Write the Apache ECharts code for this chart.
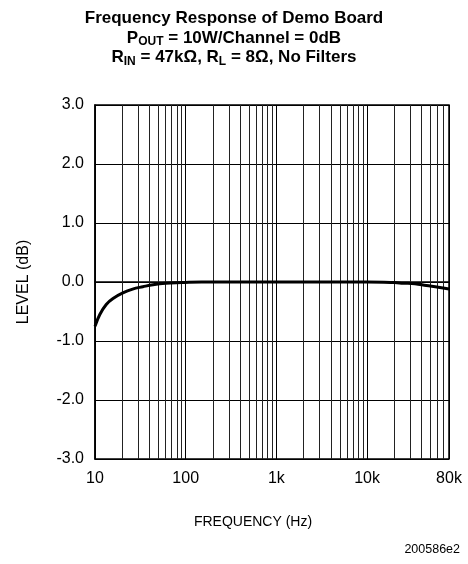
<!DOCTYPE html>
<html>
<head>
<meta charset="utf-8">
<script src="https://cdn.jsdelivr.net/npm/echarts@6/dist/echarts.min.js"></script>
<style>
html,body{margin:0;padding:0;background:#fff;}
#chart{width:468px;height:564px;}
</style>
</head>
<body>
<div id="chart"></div>
<script>
// Frequency (Hz) and level (dB)
var freqHz = [10, 11.3, 13.3, 15.8, 20, 26, 33.7, 43.6, 60, 91, 150, 300, 1000, 3000, 10000, 20000, 25000, 33700, 45000, 61000, 80000];
var levelDb = [-0.75, -0.55, -0.38, -0.28, -0.19, -0.12, -0.08, -0.045, -0.02, -0.01, 0, 0, 0, 0, 0, -0.01, -0.02, -0.03, -0.06, -0.09, -0.12];
// Axis tick labels
var xTickValues = [10, 100, 1000, 10000, 80000];
var xTickLabels = ['10', '100', '1k', '10k', '80k'];
var yTickValues = [-3, -2, -1, 0, 1, 2, 3];
var yTickLabels = ['-3.0', '-2.0', '-1.0', '0.0', '1.0', '2.0', '3.0'];
// Minor (log) grid line frequencies
var minorGrid = [20, 30, 40, 50, 60, 70, 80, 90,
                 200, 300, 400, 500, 600, 700, 800, 900,
                 2000, 3000, 4000, 5000, 6000, 7000, 8000, 9000,
                 20000, 30000, 40000, 50000, 60000, 70000];

var FONT = '"Liberation Sans", Arial, Helvetica, sans-serif';
var chart = echarts.init(document.getElementById('chart'), null, {renderer: 'canvas'});

function xLabel(v) {
  for (var i = 0; i < xTickValues.length; i++) {
    if (Math.abs(v - xTickValues[i]) / xTickValues[i] < 0.01) return xTickLabels[i];
  }
  return '';
}
function yLabel(v) {
  for (var i = 0; i < yTickValues.length; i++) {
    if (Math.abs(v - yTickValues[i]) < 1e-6) return yTickLabels[i];
  }
  return '';
}

var data = freqHz.map(function (f, i) { return [f, levelDb[i]]; });

chart.setOption({
  animation: false,
  backgroundColor: '#fff',
  title: {
    left: 'center',
    top: 4,
    text: '{b|Frequency Response of Demo Board}\n{b|P}{s|OUT}{b| = 10W/Channel = 0dB}\n{b|R}{s|IN}{b| = 47kΩ, R}{s|L}{b| = 8Ω, No Filters}',
    textStyle: {
      fontFamily: FONT,
      rich: {
        b: {fontFamily: FONT, fontSize: 17, fontWeight: 'bold', color: '#000', lineHeight: 19.5},
        s: {fontFamily: FONT, fontSize: 12, fontWeight: 'bold', color: '#000', lineHeight: 11, verticalAlign: 'bottom'}
      }
    }
  },
  grid: {
    left: 95, top: 105, width: 354, height: 354,
    show: true, borderColor: '#000', borderWidth: 1.5, backgroundColor: 'transparent'
  },
  xAxis: {
    type: 'log',
    logBase: 10,
    min: 10,
    max: 80000,
    interval: 1,
    name: 'FREQUENCY (Hz)',
    nameLocation: 'middle',
    nameGap: 56,
    nameTextStyle: {fontFamily: FONT, fontSize: 14, color: '#000', padding: [0, 38, 0, 0]},
    axisLine: {show: true, lineStyle: {color: '#000', width: 1.5}},
    axisTick: {show: false},
    axisLabel: {
      fontFamily: FONT, fontSize: 16, color: '#000', margin: 12,
      showMinLabel: true, showMaxLabel: true,
      formatter: function (v) { return xLabel(v); }
    },
    splitLine: {show: true, lineStyle: {color: '#000', width: 1}}
  },
  yAxis: {
    type: 'value',
    min: -3,
    max: 3,
    interval: 1,
    name: 'LEVEL (dB)',
    nameLocation: 'middle',
    nameGap: 63,
    nameRotate: 90,
    nameTextStyle: {fontFamily: FONT, fontSize: 16, color: '#000'},
    axisLine: {show: true, onZero: false, lineStyle: {color: '#000', width: 1.5}},
    axisTick: {show: false},
    axisLabel: {
      fontFamily: FONT, fontSize: 16, color: '#000', margin: 11,
      formatter: function (v) { return yLabel(v); }
    },
    splitLine: {show: true, lineStyle: {color: '#000', width: 1}}
  },
  graphic: [{
    type: 'text',
    right: 8,
    top: 543,
    style: {text: '200586e2', fontFamily: FONT, fontSize: 12.5, fill: '#000'}
  }],
  series: [{
    type: 'line',
    data: data,
    smooth: 0.4,
    showSymbol: false,
    symbol: 'none',
    lineStyle: {color: '#000', width: 3},
    z: 5,
    markLine: {
      silent: true,
      symbol: ['none', 'none'],
      label: {show: false},
      lineStyle: {color: '#222', width: 1, type: 'solid'},
      emphasis: {disabled: true},
      data: minorGrid.map(function (f) { return {xAxis: f}; })
    }
  }]
});
</script>
</body>
</html>
